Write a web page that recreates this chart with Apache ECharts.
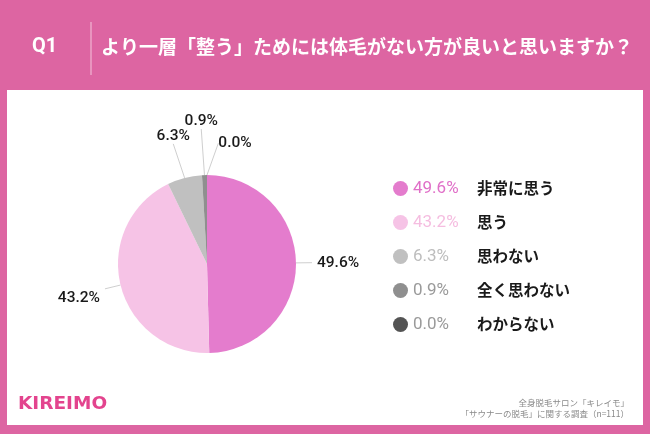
<!DOCTYPE html>
<html>
<head>
<meta charset="utf-8">
<script src="https://cdn.jsdelivr.net/npm/echarts@6/dist/echarts.min.js"></script>
<style>
    html, body { margin: 0; padding: 0; background: #dd65a2; }
    #main { width: 650px; height: 434px; }
</style>
</head>
<body>
<div id="main"></div>
<script>
    // data
    var categories = ['非常に思う', '思う', '思わない', '全く思わない', 'わからない'];
    var values = [49.6, 43.2, 6.3, 0.9, 0.0];
    var colors = ['#e47ccd', '#f6c3e6', '#c0c0c0', '#8f8f8f', '#545454'];
    var legendPctColors = ['#e070c8', '#f5bde0', '#bdbdbd', '#9a9a9a', '#9a9a9a'];
    // label line length for each slice (small slices fan out upward)
    var lineLens = [16, 16, 33, 44, 22];

    var font = 'Roboto, "Noto Sans CJK JP", sans-serif';
    var jpFont = '"Noto Sans CJK JP", sans-serif';

    var rich = {};
    categories.forEach(function (c, i) {
        rich['p' + i] = { color: legendPctColors[i], fontSize: 17, fontFamily: font, width: 64 };
    });
    rich.n = { color: '#1a1a1a', fontSize: 15.5, fontWeight: 'bold', fontFamily: jpFont };

    var myChart = echarts.init(document.getElementById('main'));
    var option = {
        backgroundColor: '#dd65a2',
        color: colors,
        graphic: [
            { type: 'rect', shape: { x: 7, y: 90, width: 636, height: 335 }, style: { fill: '#ffffff' } },
            { type: 'text', left: 32, top: 37, style: { text: 'Q1', fill: '#fff', fontSize: 20, fontWeight: 'bold', fontFamily: font } },
            { type: 'line', shape: { x1: 91, y1: 22, x2: 91, y2: 75 }, style: { stroke: '#f4c6dc', lineWidth: 1 } },
            { type: 'text', left: 101, top: 37, style: { text: 'より一層「整う」ためには体毛がない方が良いと思いますか？', fill: '#fff', fontSize: 19, fontWeight: 'bold', fontFamily: jpFont } },
            { type: 'text', left: 18, top: 395, style: { text: 'KIREIMO', fill: '#e3448e', fontSize: 18.5, fontWeight: 'bold', fontFamily: '"DejaVu Sans", sans-serif' } },
            { type: 'text', right: 21, top: 399, style: { text: '全身脱毛サロン「キレイモ」', fill: '#8a8a8a', fontSize: 8.5, fontFamily: jpFont, align: 'right' } },
            { type: 'text', right: 21, top: 410, style: { text: '「サウナーの脱毛」に関する調査（n=111）', fill: '#8a8a8a', fontSize: 8.5, fontFamily: jpFont, align: 'right' } }
        ],
        legend: {
            orient: 'vertical',
            left: 388,
            top: 175,
            icon: 'circle',
            itemWidth: 15,
            itemHeight: 15,
            itemGap: 17,
            selectedMode: false,
            data: categories,
            formatter: function (name) {
                var i = categories.indexOf(name);
                return '{p' + i + '|' + values[i].toFixed(1) + '%}{n|' + name + '}';
            },
            textStyle: { rich: rich }
        },
        series: [
            {
                type: 'pie',
                center: [207, 264],
                radius: 89,
                startAngle: 90,
                clockwise: true,
                avoidLabelOverlap: false,
                stillShowZeroSum: true,
                minShowLabelAngle: 0,
                itemStyle: { borderWidth: 0 },
                label: {
                    show: true,
                    formatter: function (p) { return p.value.toFixed(1) + '%'; },
                    color: '#1a1a1a',
                    fontSize: 15.5,
                    fontWeight: 500,
                    fontFamily: font
                },
                labelLine: {
                    show: true,
                    length: 16,
                    length2: 0,
                    lineStyle: { color: '#cfcfcf', width: 1 }
                },
                // small slices: put the text centred above the end of its line
                labelLayout: function (p) {
                    if (p.dataIndex === 1) return { dy: 9 };
                    if (p.dataIndex < 2 || !p.labelLinePoints) return {};
                    var end = p.labelLinePoints[p.labelLinePoints.length - 1];
                    var shift = p.dataIndex === 4 ? 28 : (p.dataIndex === 2 ? -3 : -2);
                    return {
                        x: end[0] + shift,
                        y: end[1] - 2,
                        align: 'center',
                        verticalAlign: 'bottom'
                    };
                },
                emphasis: { disabled: true },
                data: categories.map(function (c, i) {
                    return { name: c, value: values[i], labelLine: { length: lineLens[i] } };
                })
            }
        ]
    };
    myChart.setOption(option);
</script>
</body>
</html>
